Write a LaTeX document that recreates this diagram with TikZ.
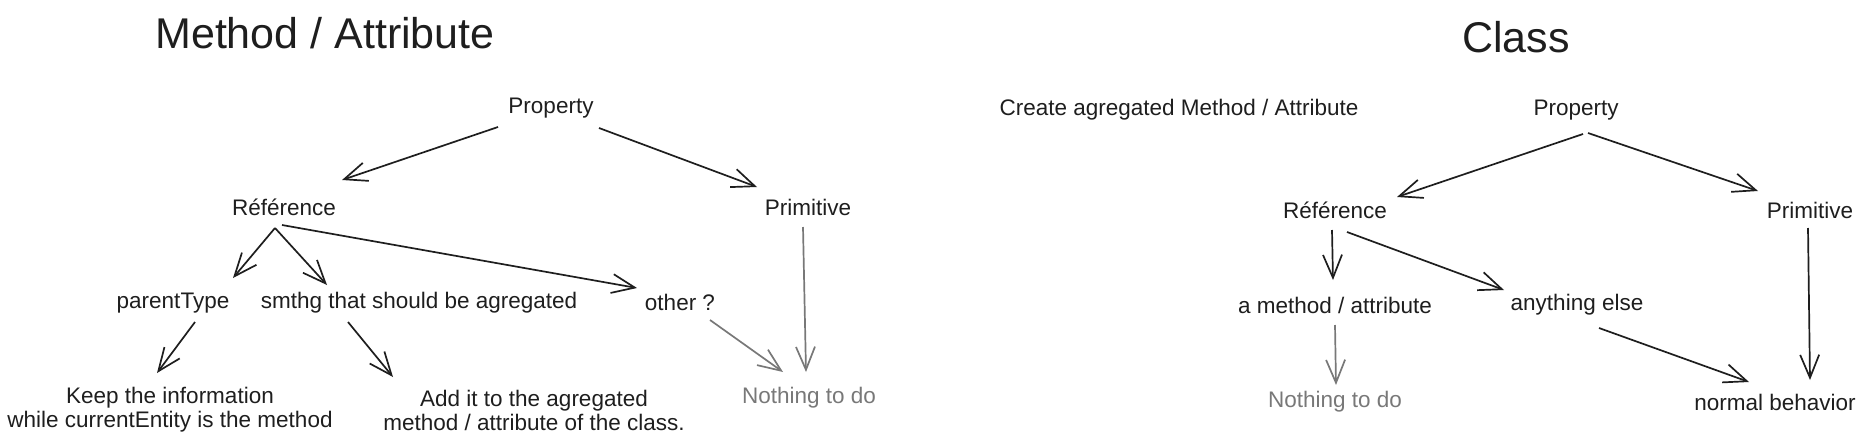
\documentclass[tikz,border=0pt]{standalone}
\usepackage{fontspec}
\setmainfont{Liberation Sans}
\usepackage{tikz}
\usetikzlibrary{arrows.meta, positioning, calc}
\definecolor{ink}{RGB}{30,30,30}
\definecolor{faded}{RGB}{120,120,120}

\begin{document}
\begin{tikzpicture}[
                                        x=1pt, y=-1pt,
                                        >={Straight Barb[length=23pt, width=19pt]},
                                        every node/.style={text=ink, inner sep=0pt, font=\fontsize{22.5pt}{24pt}\selectfont},
                                        bigtitle/.style={font=\fontsize{43pt}{48pt}\selectfont},
                                        twoline/.style={align=center},
                                        faint/.style={text=faded},
                                        arr/.style={->, draw=ink, line width=1.7pt},
                                        farr/.style={->, draw=faded, line width=1.7pt},
                                ]
                                \useasboundingbox (0,0) rectangle (1860,445);
                                \node[bigtitle] (methTitle) at (325,33) {Method / Attribute};
                                \node (propL) at (551,108) {Property};
                                \node (refL) at (284,207) {Référence};
                                \node (primL) at (808,207) {Primitive};
                                \node (parent) at (173,303) {parentType};
                                \node (smthg) at (419,303) {smthg that should be agregated};
                                \node (other) at (680,302) {other ?};
                                \node[twoline] (keep) at (170,410) {Keep the information\\while currentEntity is the method};
                                \node[twoline] (addit) at (534,410) {Add it to the agregated\\method / attribute of the class.};
                                \node[faint] (nothingL) at (809,398) {Nothing to do};
                                \draw[arr] ($(propL)+(-53,19)$) -- ($(refL)+(58,-27)$);
                                \draw[arr] ($(propL)+(48,20)$) -- ($(primL)+(-51,-20)$);
                                \draw[arr] ($(refL)+(-9,21)$) -- ($(parent)+(60,-25)$);
                                \draw[arr] ($(refL)+(-9,21)$) -- ($(smthg)+(-92,-18)$);
                                \draw[arr] ($(refL)+(-2,18)$) -- ($(other)+(-43,-14)$);
                                \draw[arr] ($(parent)+(22,19)$) -- ($(keep)+(-13,-37)$);
                                \draw[arr] ($(smthg)+(-71,19)$) -- ($(addit)+(-141,-33)$);
                                \draw[farr] ($(primL)+(-5,20)$) -- ($(nothingL)+(-3,-26)$);
                                \draw[farr] ($(other)+(30,18)$) -- ($(nothingL)+(-26,-26)$);
                                \node[bigtitle] (classTitle) at (1516,37) {Class};
                                \node (create) at (1179,110) {Create agregated Method / Attribute};
                                \node (propR) at (1576,110) {Property};
                                \node (refR) at (1335,210) {Référence};
                                \node (primR) at (1810,210) {Primitive};
                                \node (amethod) at (1335,305) {a method / attribute};
                                \node (anything) at (1577,305) {anything else};
                                \node[faint] (nothingR) at (1335,402) {Nothing to do};
                                \node (normal) at (1775,402) {normal behavior};
                                \draw[arr] ($(propR)+(7,24)$) -- ($(refR)+(62,-13)$);
                                \draw[arr] ($(propR)+(12,23)$) -- ($(primR)+(-52,-19)$);
                                \draw[arr] ($(refR)+(-3,20)$) -- ($(amethod)+(-2,-25)$);
                                \draw[arr] ($(refR)+(12,22)$) -- ($(anything)+(-73,-15)$);
                                \draw[arr] ($(anything)+(22,23)$) -- ($(normal)+(-26,-20)$);
                                \draw[arr] ($(primR)+(-2,18)$) -- ($(normal)+(35,-22)$);
                                \draw[farr] ($(amethod)+(0,20)$) -- ($(nothingR)+(1,-17)$);
                        \end{tikzpicture}
\end{document}
